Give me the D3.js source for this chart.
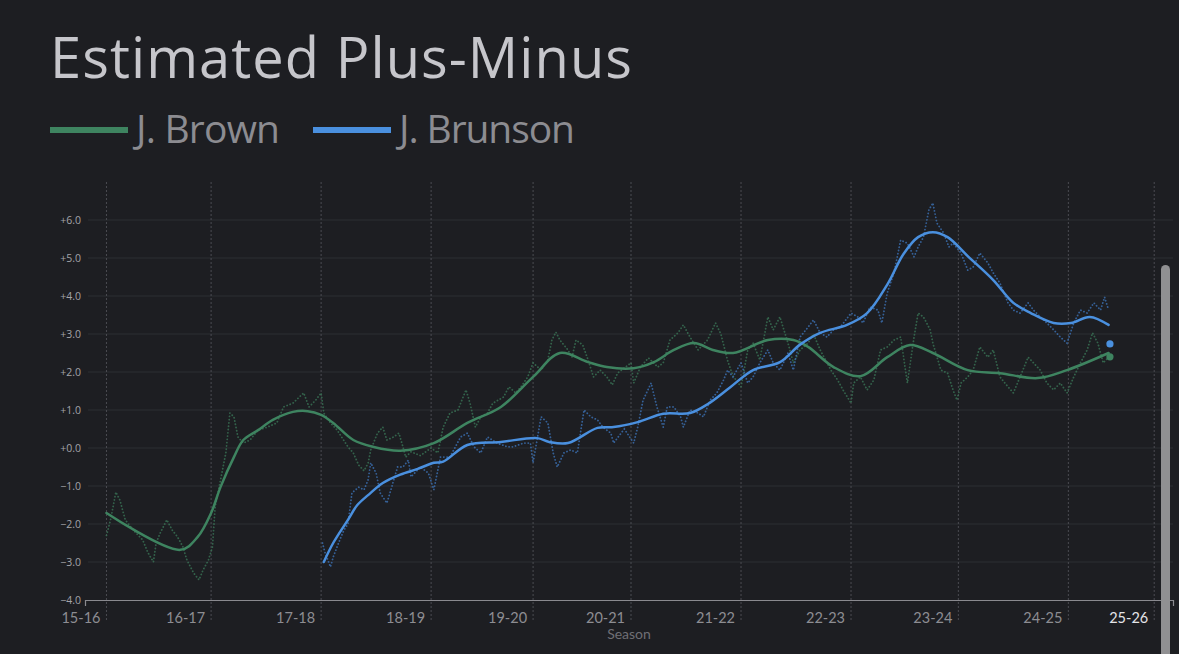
<!DOCTYPE html>
<html><head><meta charset="utf-8">
<script src="https://cdn.jsdelivr.net/npm/d3@7"></script>
<style>
html,body{margin:0;padding:0;background:#1d1e22;overflow:hidden;}
svg{display:block;font-family:Lato,"Open Sans",sans-serif;}
</style></head>
<body>
<svg id="c" width="1179" height="654"></svg>
<script>
const titleText = "Estimated Plus-Minus";
const seriesNames = ["J. Brown", "J. Brunson"];
const seasonLabels = ["15-16","16-17","17-18","18-19","19-20","20-21","21-22","22-23","23-24","24-25","25-26"];
// season boundaries in cumulative game index
const seasonBounds = [0,78,160,242,318,391,473,555,635,717,781];
const yTicks = [-4,-3,-2,-1,0,1,2,3,4,5,6];

// smoothed EPM [game index, value]
const brownSmooth = [[0,-1.71],[55,-2.68],[68,-2.34],[78,-1.71],[85,-1.03],[95,-0.24],[102,0.21],[113,0.47],[124,0.74],[139,0.95],[150,0.97],[160,0.87],[169,0.66],[184,0.21],[199,0.03],[219,-0.07],[244,0.13],[269,0.66],[294,1.08],[318,1.87],[338,2.5],[359,2.26],[373,2.13],[393,2.1],[408,2.26],[423,2.58],[438,2.76],[452,2.58],[467,2.5],[493,2.84],[512,2.84],[523,2.66],[542,2.13],[562,1.89],[582,2.39],[599,2.71],[616,2.5],[642,2.05],[666,1.97],[694,1.84],[716,2.05],[747,2.5]];
const brunsonSmooth = [[162,-3.0],[169,-2.5],[180,-1.89],[187,-1.5],[195,-1.24],[206,-0.92],[219,-0.7],[232,-0.55],[244,-0.39],[251,-0.36],[269,0.08],[294,0.16],[321,0.26],[330,0.16],[344,0.13],[366,0.53],[378,0.55],[396,0.68],[415,0.9],[435,0.92],[448,1.15],[465,1.6],[482,2.05],[502,2.26],[517,2.72],[532,3.03],[552,3.24],[567,3.55],[582,4.3],[594,5.1],[605,5.55],[616,5.68],[627,5.55],[642,5.05],[661,4.42],[676,3.82],[689,3.55],[706,3.29],[719,3.29],[733,3.45],[747,3.24]];

// per-game raw EPM [game index, value]
const brownRaw = [[0,-2.3],[3,-1.9],[7,-1.16],[10,-1.37],[14,-1.89],[20,-2.16],[27,-2.42],[31,-2.76],[35,-3.0],[37,-2.5],[40,-2.24],[45,-1.89],[49,-2.16],[53,-2.34],[57,-2.6],[60,-2.95],[65,-3.29],[69,-3.47],[72,-3.21],[76,-2.95],[79,-2.6],[81,-1.55],[85,-0.84],[89,-0.13],[92,0.92],[95,0.82],[98,0.29],[102,0.13],[107,0.21],[113,0.47],[120,0.55],[127,0.66],[132,1.08],[139,1.18],[147,1.45],[151,1.08],[156,1.26],[160,1.45],[162,0.92],[167,0.66],[172,0.47],[180,0.03],[184,-0.13],[188,-0.45],[192,-0.6],[195,-0.4],[197,-0.05],[202,0.39],[206,0.55],[209,0.21],[214,0.29],[218,0.39],[221,0.03],[223,-0.24],[227,-0.1],[234,-0.2],[242,0.0],[247,-0.13],[251,0.55],[256,0.92],[262,1.0],[268,1.53],[271,1.18],[275,0.55],[279,0.82],[284,0.92],[288,1.18],[296,1.34],[300,1.61],[305,1.45],[309,1.61],[314,1.87],[318,2.24],[324,2.05],[329,2.32],[332,2.84],[335,3.05],[338,2.84],[344,2.58],[347,2.39],[350,2.84],[355,2.71],[359,2.32],[363,1.87],[368,2.05],[373,1.87],[377,1.66],[381,1.97],[391,2.24],[393,1.71],[398,2.13],[404,2.37],[411,2.13],[415,2.24],[420,2.84],[426,3.03],[430,3.24],[435,2.92],[441,2.58],[448,2.84],[454,3.29],[458,3.0],[463,2.3],[467,1.9],[473,1.61],[478,2.58],[482,2.76],[487,2.32],[493,3.45],[497,3.11],[502,3.45],[508,2.76],[512,2.24],[517,2.58],[523,2.76],[527,3.0],[532,2.58],[540,2.05],[545,1.79],[549,1.53],[555,1.18],[557,1.71],[562,1.87],[567,1.53],[572,1.79],[577,2.58],[582,2.66],[587,2.84],[592,2.92],[597,1.71],[602,2.92],[605,3.55],[609,3.45],[614,3.11],[616,2.76],[622,2.05],[627,1.97],[631,1.53],[634,1.26],[637,1.71],[642,1.87],[646,2.05],[651,2.66],[657,2.39],[661,2.58],[666,1.87],[672,1.61],[676,1.45],[681,1.87],[687,2.39],[691,2.24],[696,2.05],[701,1.71],[706,1.53],[711,1.71],[716,1.45],[721,1.87],[726,2.24],[731,2.58],[735,3.03],[739,2.76],[743,2.24],[747,2.39]];
const brunsonRaw = [[161,-2.5],[163,-2.76],[167,-3.13],[169,-2.87],[173,-2.5],[177,-2.16],[180,-2.0],[183,-1.18],[188,-1.03],[192,-1.1],[195,-0.84],[197,-0.39],[201,-0.66],[204,-1.18],[209,-1.45],[212,-1.1],[217,-0.5],[221,-0.5],[225,-0.32],[227,-0.76],[234,-0.5],[240,-0.66],[244,-1.1],[249,-0.24],[256,-0.24],[264,0.29],[269,0.39],[274,0.03],[279,-0.13],[284,0.29],[291,0.13],[299,0.03],[303,0.03],[311,0.13],[316,0.13],[318,-0.39],[324,0.82],[329,0.66],[333,-0.13],[336,-0.5],[341,-0.13],[346,-0.05],[351,-0.13],[356,1.0],[361,0.82],[366,0.74],[370,0.55],[376,0.39],[378,0.13],[386,0.5],[393,0.13],[396,0.55],[400,1.26],[406,1.71],[409,1.26],[411,1.0],[415,0.55],[418,1.08],[423,1.08],[428,0.82],[430,0.55],[435,1.0],[441,0.92],[445,0.82],[450,1.26],[455,1.45],[460,1.79],[463,2.05],[467,1.87],[473,2.24],[478,1.71],[482,1.87],[487,2.24],[493,2.58],[497,2.24],[502,2.05],[508,2.5],[512,2.05],[517,2.92],[523,3.18],[527,3.37],[532,3.03],[537,2.92],[542,3.11],[547,3.18],[555,3.55],[560,3.45],[564,3.29],[569,3.71],[575,3.63],[578,3.29],[582,4.08],[587,4.61],[592,5.47],[597,5.39],[602,5.03],[605,5.29],[609,5.55],[613,6.26],[616,6.45],[619,5.92],[624,5.66],[628,5.29],[631,5.39],[637,5.13],[642,4.68],[646,4.76],[651,5.13],[657,4.87],[661,4.61],[666,4.34],[672,3.82],[676,3.63],[681,3.55],[687,3.82],[691,3.63],[696,3.45],[701,3.29],[706,3.11],[711,2.92],[716,2.76],[721,3.29],[726,3.63],[731,3.55],[736,3.82],[741,3.63],[744,3.97],[747,3.63]];

// latest game markers [game index, value]
const brownLatest = [748, 2.40];
const brunsonLatest = [748, 2.74];

const colors = ["#3e8460", "#4a90df"];
const rawColors = ["#3a7456", "#3c72b5"];

const svg = d3.select("#c");
const W = 1179, H = 654;
svg.append("rect").attr("width", W).attr("height", H).attr("fill", "#1d1e22");

const x = d3.scaleLinear().domain([-16, 795]).range([85, 1173]);
const y = d3.scaleLinear().domain([-4, 7]).range([600, 182]);

// fit text to a target width through letter spacing
function fitSpacing(sel, target) {
  const w = sel.node().getComputedTextLength();
  const n = sel.text().length;
  sel.attr("letter-spacing", (target - w) / (n - 1));
}

// title
const title = svg.append("text").text(titleText)
  .attr("x", 50).attr("y", 78).attr("fill", "#c6c6cb")
  .attr("font-family", "'Open Sans', sans-serif")
  .attr("font-size", 56).attr("font-weight", 400);
fitSpacing(title, 582);

// legend
const legendX = [50, 313];
const legendTW = [144, 176];
seriesNames.forEach((n, i) => {
  svg.append("line").attr("x1", legendX[i]).attr("x2", legendX[i] + 78)
    .attr("y1", 130).attr("y2", 130).attr("stroke", colors[i]).attr("stroke-width", 6);
  const t = svg.append("text").text(n).attr("x", legendX[i] + 86).attr("y", 143)
    .attr("fill", "#8c8c91").attr("font-size", 39)
    .attr("font-family", "'Open Sans', sans-serif");
  fitSpacing(t, legendTW[i]);
});

// horizontal grid
svg.append("g").selectAll("line").data(yTicks.filter(v => v > -4)).join("line")
  .attr("x1", 88).attr("x2", 1173)
  .attr("y1", d => y(d)).attr("y2", d => y(d))
  .attr("stroke", "#2d2e33").attr("stroke-width", 1);

// vertical season lines
svg.append("g").selectAll("line").data(seasonBounds).join("line")
  .attr("x1", d => x(d)).attr("x2", d => x(d))
  .attr("y1", 182).attr("y2", 622)
  .attr("stroke", "#4b4c52").attr("stroke-width", 1).attr("stroke-dasharray", "2,2");

// y tick labels
svg.append("g").selectAll("text").data(yTicks).join("text")
  .attr("x", 81).attr("y", d => y(d)).attr("dy", "0.35em")
  .attr("text-anchor", "end").attr("font-size", 10.5).attr("fill", "#a3a3a8")
  .attr("font-family", "'Open Sans', sans-serif")
  .text(d => (d >= 0 ? "+" : "\u2212") + Math.abs(d).toFixed(1));

// x axis
const xAxis = d3.axisBottom(x).tickValues([]).tickSizeOuter(6);
const ax = svg.append("g").attr("transform", "translate(0,600)").call(xAxis);
ax.select(".domain").attr("stroke", "#8a8a8f").attr("stroke-width", 1.2);

svg.append("g").selectAll("text").data(seasonLabels).join("text")
  .attr("x", (d, i) => x(seasonBounds[i]) - 6).attr("y", 623)
  .attr("text-anchor", "end").attr("font-size", 14.5)
  .attr("fill", (d, i) => i === seasonLabels.length - 1 ? "#e4e4e8" : "#8d8d92")
  .text(d => d);

svg.append("text").text("Season").attr("x", (85 + 1173) / 2).attr("y", 639)
  .attr("text-anchor", "middle").attr("font-size", 14).attr("fill", "#6f6f75");

// raw dotted series
const rawLine = d3.line().x(d => x(d[0])).y(d => y(d[1]));
[brownRaw, brunsonRaw].forEach((data, i) => {
  svg.append("path").datum(data).attr("d", rawLine)
    .attr("fill", "none").attr("stroke", rawColors[i]).attr("stroke-width", 1.8)
    .attr("stroke-dasharray", "0.1,3.2").attr("stroke-linecap", "round")
    .attr("opacity", 0.8);
});

// smooth series
const smoothLine = d3.line().x(d => x(d[0])).y(d => y(d[1])).curve(d3.curveCatmullRom.alpha(0.5));
[brownSmooth, brunsonSmooth].forEach((data, i) => {
  svg.append("path").datum(data).attr("d", smoothLine)
    .attr("fill", "none").attr("stroke", colors[i]).attr("stroke-width", 2.5)
    .attr("stroke-linejoin", "round").attr("stroke-linecap", "round");
});

// latest markers
[brownLatest, brunsonLatest].forEach((d, i) => {
  svg.append("circle").attr("cx", x(d[0])).attr("cy", y(d[1])).attr("r", 3.6)
    .attr("fill", colors[i]);
});

// scrollbar of the screenshot
svg.append("rect").attr("x", 1161).attr("y", 265).attr("width", 9).attr("height", 420)
  .attr("rx", 4.5).attr("fill", "#909092");
</script>
</body></html>
